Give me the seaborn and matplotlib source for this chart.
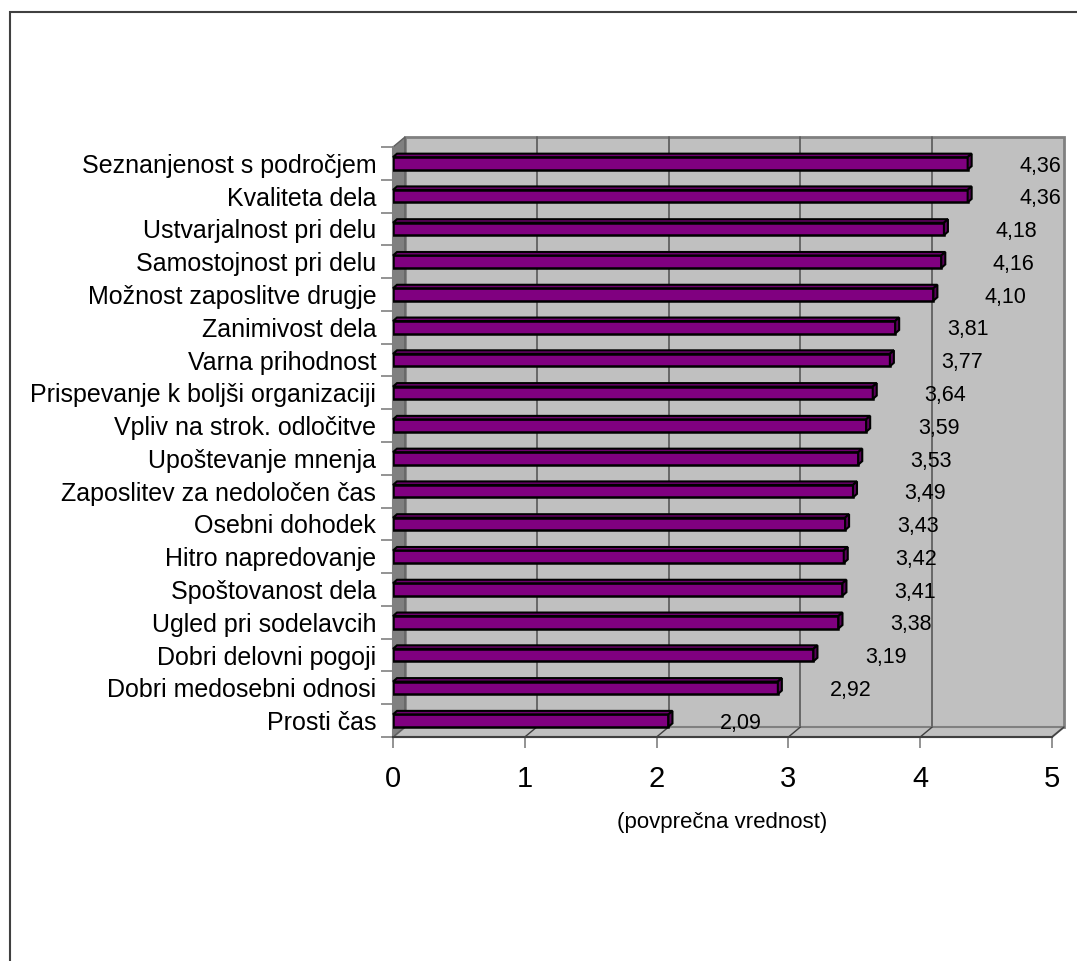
import matplotlib
matplotlib.use("Agg")
import matplotlib.pyplot as plt
from matplotlib.patches import Polygon, Rectangle
import seaborn as sns
import pandas as pd

categories = [
    "Seznanjenost s področjem", "Kvaliteta dela", "Ustvarjalnost pri delu",
    "Samostojnost pri delu", "Možnost zaposlitve drugje", "Zanimivost dela",
    "Varna prihodnost", "Prispevanje k boljši organizaciji",
    "Vpliv na strok. odločitve", "Upoštevanje mnenja",
    "Zaposlitev za nedoločen čas", "Osebni dohodek", "Hitro napredovanje",
    "Spoštovanost dela", "Ugled pri sodelavcih", "Dobri delovni pogoji",
    "Dobri medosebni odnosi", "Prosti čas",
]
values = [4.36, 4.36, 4.18, 4.16, 4.10, 3.81, 3.77, 3.64, 3.59, 3.53,
          3.49, 3.43, 3.42, 3.41, 3.38, 3.19, 2.92, 2.09]
x_ticks = [0, 1, 2, 3, 4, 5]
x_label = "(povprečna vrednost)"

df = pd.DataFrame({"kategorija": categories, "vrednost": values})

sns.set_style("white")
plt.rcParams["font.family"] = ["Liberation Sans", "DejaVu Sans"]
plt.rcParams["text.color"] = "black"
plt.rcParams["axes.labelcolor"] = "black"

W, H = 1077, 961
fig = plt.figure(figsize=(W / 100, H / 100), dpi=100)
# front plane of the pseudo-3D chart, in pixels
left, right, top, bottom = 393, 1052, 147, 737
ax = fig.add_axes([left / W, 1 - bottom / H, (right - left) / W, (bottom - top) / H])

n = len(categories)
ax.set_xlim(0, 5)
ax.set_ylim(n - 0.5, -0.5)

# depth offset of back wall (pixels -> data units)
ppx = (right - left) / 5
ppy = (bottom - top) / n
OX, OY = 12 / ppx, 10 / ppy
wall = "#c0c0c0"
dark = "#808080"

# back wall
ax.add_patch(Rectangle((OX, -0.5 - OY), 5, n, facecolor=wall, edgecolor=dark,
                       lw=2, clip_on=False, zorder=0))
for k in x_ticks[1:-1]:
    ax.plot([k + OX, k + OX], [-0.5 - OY, n - 0.5 - OY], color="#606060",
            lw=1.3, clip_on=False, zorder=1)
# floor
ax.add_patch(Polygon([(0, n - 0.5), (5, n - 0.5), (5 + OX, n - 0.5 - OY), (OX, n - 0.5 - OY)],
                     closed=True, facecolor=wall, edgecolor=dark, lw=1.5, clip_on=False, zorder=1))
for k in x_ticks[1:]:
    ax.plot([k, k + OX], [n - 0.5, n - 0.5 - OY], color="#404040", lw=1,
            clip_on=False, zorder=1)
# left wall
ax.add_patch(Polygon([(0, -0.5), (0, n - 0.5), (OX, n - 0.5 - OY), (OX, -0.5 - OY)],
                     closed=True, facecolor=dark, edgecolor="#606060", lw=1, clip_on=False, zorder=1))

sns.barplot(data=df, x="vrednost", y="kategorija", orient="h", color="#800080",
            edgecolor="black", linewidth=1.8, width=0.38, saturation=1, ax=ax, zorder=3)

# bar depth faces
bdx, bdy = 4 / ppx, 3.5 / ppy
bars = list(ax.patches)[3:]
for p in bars:
    x0, y0, w, h = p.get_x(), p.get_y(), p.get_width(), p.get_height()
    ax.add_patch(Polygon([(x0, y0), (x0 + w, y0), (x0 + w + bdx, y0 - bdy), (x0 + bdx, y0 - bdy)],
                         closed=True, facecolor="#6e006e", edgecolor="black", lw=1.5,
                         clip_on=False, zorder=3))
    ax.add_patch(Polygon([(x0 + w, y0), (x0 + w, y0 + h), (x0 + w + bdx, y0 + h - bdy),
                          (x0 + w + bdx, y0 - bdy)],
                         closed=True, facecolor="#5a005a", edgecolor="black", lw=1.5,
                         clip_on=False, zorder=3))

for i, v in enumerate(values):
    ax.text(v + 0.55, i + 0.08, f"{v:.2f}".replace(".", ","), ha="center", va="center",
            fontsize=15.5, color="black", zorder=5, clip_on=False)

ax.patch.set_visible(False)
for s in ["top", "right"]:
    ax.spines[s].set_visible(False)
ax.spines["bottom"].set_color("#404040")
ax.spines["bottom"].set_linewidth(1.5)
ax.spines["left"].set_color(dark)
ax.spines["left"].set_linewidth(1.5)

ax.set_xticks(x_ticks)
ax.set_xticklabels([str(t) for t in x_ticks], fontsize=21)
ax.tick_params(axis="x", direction="out", length=8, width=1.2, color=dark,
               labelcolor="black", pad=12, bottom=True)
ax.set_yticks(range(n))
ax.set_yticklabels(categories, fontsize=18)
ax.set_yticks([i - 0.5 for i in range(n + 1)], minor=True)
ax.tick_params(axis="y", which="major", length=0, pad=12, labelcolor="black")
ax.tick_params(axis="y", which="minor", direction="out", length=9, width=1.2,
               color=dark, left=True)
ax.set_ylabel("")
ax.set_xlabel(x_label, fontsize=16, labelpad=14)

# outer chart border (cut off at the right and bottom in the reference)
fig.patches.append(Rectangle((10 / W, -0.05), 1.1, 1 - 12 / H + 0.05,
                             transform=fig.transFigure, fill=False,
                             edgecolor="#404040", lw=1.5))

fig.savefig("out.png", dpi=100)
